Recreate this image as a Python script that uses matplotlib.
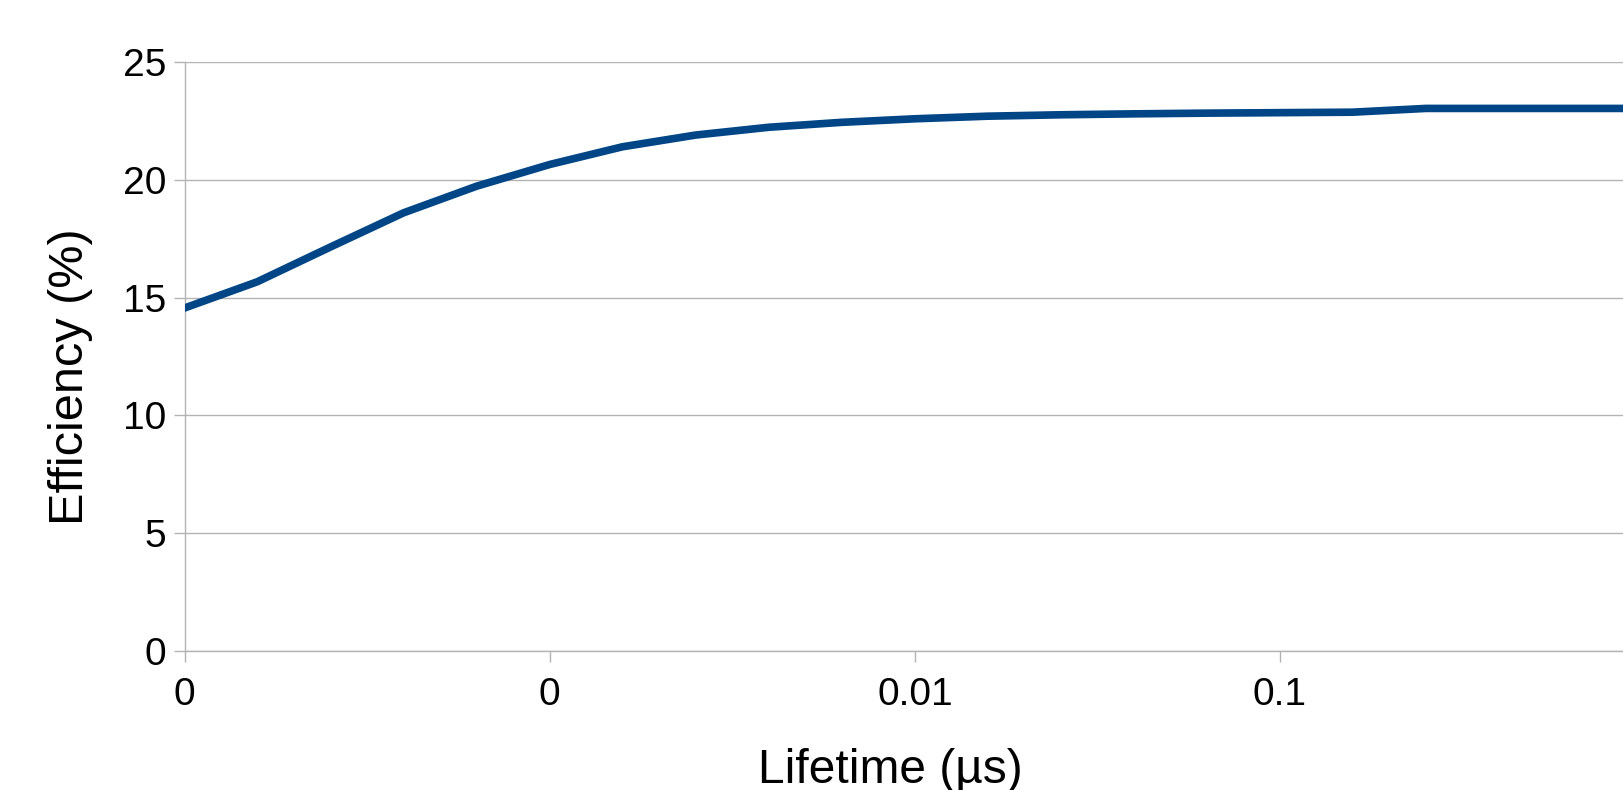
import numpy as np
import matplotlib
matplotlib.use("Agg")
import matplotlib.pyplot as plt
from matplotlib.ticker import FixedLocator, FixedFormatter, NullLocator

plt.rcParams["font.family"] = ["Liberation Sans", "DejaVu Sans"]

# Lifetime (us) vs efficiency (%)
lifetime = [0.0001, 0.000158, 0.000251, 0.000398, 0.000631,
            0.001, 0.00158, 0.00251, 0.00398, 0.00631,
            0.01, 0.0158, 0.0251, 0.0398, 0.0631,
            0.1, 0.158, 0.251, 0.398, 0.631, 1.0]
efficiency = [14.56, 15.67, 17.15, 18.6, 19.73,
              20.65, 21.40, 21.90, 22.23, 22.44,
              22.59, 22.70, 22.76, 22.80, 22.83,
              22.85, 22.87, 23.03, 23.03, 23.03, 23.03]
x_ticks = [0.0001, 0.001, 0.01, 0.1, 1.0]
x_tick_labels = ["0", "0", "0.01", "0.1", "1"]
y_ticks = [0, 5, 10, 15, 20, 25]

grid_col = "#b3b3b3"

fig = plt.figure(figsize=(16.24, 7.90), dpi=100)
ax = fig.add_axes([0.1137, 0.176, 1 - 0.1137, 0.9215 - 0.176])

ax.plot(lifetime, efficiency, color="#004586", lw=5.5, solid_joinstyle="round",
        zorder=3)

ax.set_xscale("log")
ax.set_xlim(1e-4, 0.876)
ax.set_ylim(0, 25)

ax.xaxis.set_major_locator(FixedLocator(x_ticks))
ax.xaxis.set_major_formatter(FixedFormatter(x_tick_labels))
ax.xaxis.set_minor_locator(NullLocator())
ax.set_yticks(y_ticks)

ax.yaxis.grid(True, color=grid_col, lw=1.0)
ax.xaxis.grid(False)
ax.set_axisbelow(True)

for side in ("top", "right"):
    ax.spines[side].set_visible(False)
for side in ("left", "bottom"):
    ax.spines[side].set_color(grid_col)
    ax.spines[side].set_linewidth(1.0)

ax.tick_params(axis="both", which="major", direction="out", length=11 * 0.72,
               width=1.0, color=grid_col, labelsize=28, labelcolor="black")
ax.tick_params(axis="x", pad=11)
ax.tick_params(axis="y", pad=5.5)

ax.set_xlabel("Lifetime (µs)", fontsize=34.5)
ax.set_ylabel("Efficiency (%)", fontsize=35)
ax.xaxis.set_label_coords(0.49, -0.164)
ax.yaxis.set_label_coords(-0.064, 0.466)

fig.savefig("out.png", dpi=100, facecolor="white")
